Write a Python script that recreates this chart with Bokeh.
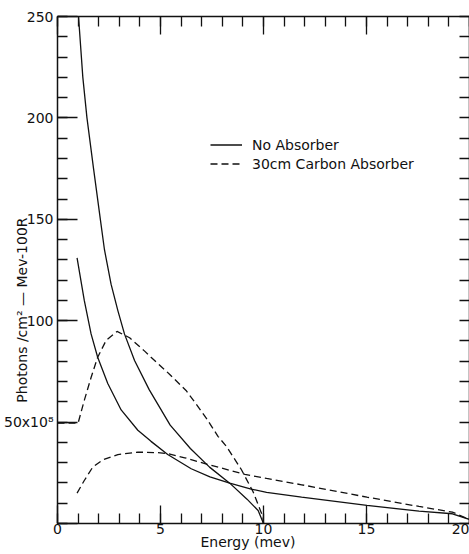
from bokeh.plotting import figure
from bokeh.models import (LinearAxis, SingleIntervalTicker, Range1d, Legend,
                          LegendItem)
from bokeh.embed import file_html
from bokeh.resources import INLINE

# ---- data ----
# No absorber, upper curve (ends at 10 MeV)
noabs_10_x = [1.0, 1.02, 1.23, 1.43, 1.75, 2.08, 2.28, 2.6, 2.93, 3.25, 3.74,
              4.45, 5.47, 6.45, 7.38, 8.36, 9.2, 9.74, 10.0]
noabs_10_y = [256, 250, 220, 200, 175, 150, 135, 118, 105, 93.5, 80.4,
              66, 48.5, 37, 27.8, 19.9, 12, 6.4, 0]
# No absorber, lower curve (ends at 20 MeV)
noabs_20_x = [0.95, 1.3, 1.63, 1.95, 2.44, 3.09, 3.9, 4.54, 5.35, 6.49, 7.4,
              8.36, 9.4, 10.15, 11.85, 15.02, 17.55, 19.17, 20.0]
noabs_20_y = [131, 110, 93.5, 82, 69, 56, 46, 40.5, 34, 27, 23,
              19.9, 17, 15.4, 13, 8.9, 6.1, 4.8, 2]
# 30 cm carbon absorber, curve ending at 10 MeV
carbon_10_x = [0.0, 1.0, 1.3, 1.63, 1.95, 2.36, 2.89, 3.5, 4.23, 4.54, 5.45,
               6.24, 6.65, 7.22, 7.79, 8.2, 8.93, 9.5, 9.98, 10.0]
carbon_10_y = [49.5, 49.5, 60.7, 72, 82, 90.3, 94.7, 91.6, 85, 82, 73.5,
               65.6, 60, 52, 43, 38, 26.5, 15.5, 3, 0]
# 30 cm carbon absorber, curve ending at 20 MeV
carbon_20_x = [0.95, 1.3, 1.71, 2.2, 2.93, 3.9, 4.88, 5.37, 6.18, 7.35, 9.1,
               10.15, 11.85, 15.02, 17.55, 19.17, 20.0]
carbon_20_y = [15, 21.2, 27.8, 31.4, 34, 35.2, 34.9, 34.4, 32.4, 29, 24.2,
               22.2, 19.1, 13, 8.4, 5.6, 2]

y_label_overrides = {0: "", 50: "50x10\u2078"}
legend_labels = ["No Absorber", "30cm Carbon Absorber"]
NBSP = "\u00a0"
x_title = "Energy (mev)" + NBSP * 7
y_title = "Photons /cm\u00b2 \u2014 Mev-100R" + NBSP * 18

FONT = "DejaVu Sans"
INK = "#111111"

p = figure(width=469, height=554, output_backend="svg", toolbar_location=None,
           x_range=Range1d(0, 20), y_range=Range1d(0, 250),
           min_border_left=57, min_border_right=0, min_border_top=16,
           min_border_bottom=31, background_fill_color="white",
           border_fill_color="white")
p.grid.visible = False
p.outline_line_color = None


def style(ax, tick_in, minor_in, labels=True):
    ax.axis_line_color = INK
    ax.axis_line_width = 1.5
    ax.major_tick_line_color = INK
    ax.minor_tick_line_color = INK
    ax.major_tick_line_width = 1.3
    ax.minor_tick_line_width = 1.3
    ax.major_tick_in = tick_in
    ax.major_tick_out = 0
    ax.minor_tick_in = minor_in
    ax.minor_tick_out = 0
    ax.axis_label_text_font = FONT
    ax.axis_label_text_font_size = "14px"
    ax.axis_label_text_font_style = "normal"
    ax.axis_label_text_color = INK
    ax.major_label_text_font = FONT
    ax.major_label_text_font_size = "14px"
    if labels:
        ax.major_label_text_color = INK
    else:
        ax.major_label_text_color = None
        ax.major_label_standoff = 0


xb = p.xaxis[0]
xb.ticker = SingleIntervalTicker(interval=5, num_minor_ticks=5)
style(xb, 18, 10)
xb.major_label_standoff = 0
xb.axis_label = x_title
xb.axis_label_standoff = -3

yl = p.yaxis[0]
yl.ticker = SingleIntervalTicker(interval=50, num_minor_ticks=5)
style(yl, 20, 10)
yl.major_label_standoff = 4
yl.major_label_overrides = y_label_overrides
yl.axis_label = y_title
yl.axis_label_standoff = -29

xt = LinearAxis(ticker=SingleIntervalTicker(interval=5, num_minor_ticks=5))
style(xt, 18, 10, labels=False)
p.add_layout(xt, "above")

yr = LinearAxis(ticker=SingleIntervalTicker(interval=10, num_minor_ticks=0))
style(yr, 10, 0, labels=False)
yr.major_label_standoff = -8
p.add_layout(yr, "right")

lw = 1.3
r1 = p.line(noabs_10_x, noabs_10_y, line_color=INK, line_width=lw)
r2 = p.line(noabs_20_x, noabs_20_y, line_color=INK, line_width=lw)
r3 = p.line(carbon_10_x, carbon_10_y, line_color=INK, line_width=lw,
            line_dash="7 4")
r4 = p.line(carbon_20_x, carbon_20_y, line_color=INK, line_width=lw,
            line_dash="7 4")

leg = Legend(items=[LegendItem(label=legend_labels[0], renderers=[r1]),
                    LegendItem(label=legend_labels[1], renderers=[r3])],
             location=(153, 350), padding=0, spacing=0, margin=0,
             glyph_width=32, glyph_height=19, label_height=19,
             label_standoff=10, border_line_color=None,
             background_fill_alpha=0, label_text_font=FONT,
             label_text_font_size="14px", label_text_color=INK)
p.add_layout(leg)

open("out.html", "w").write(file_html(p, INLINE))
